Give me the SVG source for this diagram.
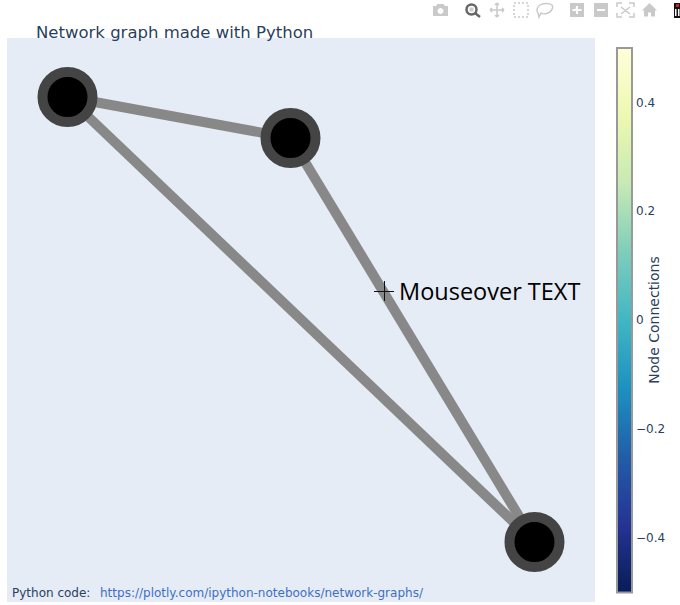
<svg xmlns="http://www.w3.org/2000/svg" width="680" height="605" viewBox="0 0 680 605">
<style>
.edge{stroke:#888;stroke-width:10;fill:none}
.node{fill:#000;stroke:#444;stroke-width:10}
.plotly{font-family:"DejaVu Sans",Verdana,sans-serif;fill:#2a3f5f}
.tick{font-size:12px}
.ic{fill:#c9c9c9;stroke:none}
.il{fill:none;stroke:#c9c9c9;stroke-width:1.5}
</style>
<defs>
<linearGradient id="ylgnbu" x1="0" y1="0" x2="0" y2="1">
<stop offset="0" stop-color="#ffffd9"/><stop offset=".125" stop-color="#edf8b1"/><stop offset=".25" stop-color="#c7e9b4"/><stop offset=".375" stop-color="#7fcdbb"/><stop offset=".5" stop-color="#41b6c4"/><stop offset=".625" stop-color="#1d91c0"/><stop offset=".75" stop-color="#225ea8"/><stop offset=".875" stop-color="#253494"/><stop offset="1" stop-color="#081d58"/>
</linearGradient>
</defs>
<rect width="680" height="605" fill="#fff"/>
<rect id="plot-area" x="7" y="38" width="588" height="564" fill="#e5ecf6"/>
<text id="title" class="plotly" x="36" y="38" font-size="16.5">Network graph made with Python</text>
<g id="connectors">
<line class="edge" x1="67.5" y1="97" x2="290.5" y2="138"/>
<line class="edge" x1="67.5" y1="97" x2="534.5" y2="542"/>
<line class="edge" x1="290.5" y1="138" x2="534.5" y2="542"/>
</g>
<g id="node-1"><circle class="node" cx="67.5" cy="97" r="25"/></g>
<g id="node-2"><circle class="node" cx="290.5" cy="138" r="25"/></g>
<g id="node-3"><circle class="node" cx="534.5" cy="542" r="25"/></g>
<g id="cursor" stroke="#111" stroke-width="1"><line x1="374" y1="291.5" x2="394" y2="291.5"/><line x1="384.5" y1="281" x2="384.5" y2="301"/></g>
<text id="hover" x="399" y="300" font-family="'Open Sans',sans-serif" font-size="23.5" fill="#000">Mouseover TEXT</text>
<text id="annotation" font-family="'DejaVu Sans',Verdana,sans-serif" font-size="12" x="12" y="597" fill="#2a3f5f">Python code:<tspan x="100" fill="#3f6fc4">https://plotly.com/ipython-notebooks/network-graphs/</tspan></text>
<g id="colorbar">
<rect x="617" y="48" width="15" height="544.500" fill="url(#ylgnbu)" stroke="#999" stroke-width="2"/>
<g class="plotly tick">
<text x="636" y="107">0.4</text>
<text x="636" y="215">0.2</text>
<text x="636" y="324">0</text>
<text x="636" y="433">−0.2</text>
<text x="636" y="542">−0.4</text>
</g>
<text class="plotly" font-size="14" transform="translate(659 320) rotate(-90)" text-anchor="middle">Node Connections</text>
</g>
<g id="toolbar">
<path class="ic" d="M433 6h3l1.500-2h6l1.500 2h3v10h-15zM440.500 8a3 3 0 1 0 .01 0z" fill-rule="evenodd"/>
<circle cx="471.500" cy="9.500" r="5" fill="none" stroke="#666" stroke-width="2.500"/><rect x="469.500" y="7.500" width="4" height="4" fill="#ccc"/><line x1="475" y1="13" x2="480" y2="17" stroke="#666" stroke-width="2.500"/>
<path class="il" d="M497 3v14M490 10h14M497 3l-2 2M497 3l2 2M497 17l-2-2M497 17l2-2M490 10l2-2M490 10l2 2M504 10l-2-2M504 10l-2 2"/>
<rect class="il" x="514" y="3" width="14" height="14" stroke-dasharray="2 2"/>
<path class="il" d="M539 17l-1-4c-2-2-1-6 2-8s9-2 12 0c2 3-1 7-4 8s-6 1-7 0z"/>
<path class="ic" d="M570 3h14v14h-14zM575.500 9h-3v2h3.500v3h2v-3h3.500v-2h-3.500v-3h-2z" fill-rule="evenodd"/>
<path class="ic" d="M594 3h14v14h-14zM597 9v2h8v-2z" fill-rule="evenodd"/>
<path class="il" d="M618 3h-1v4M618 3h4M633 3h1v4M633 3h-4M618 17h-1v-4M618 17h4M633 17h1v-4M633 17h-4M621 7l9 7M630 7l-9 7"/>
<path class="ic" d="M649.500 3l7.500 7.500h-2v6h-4v-4h-3v4h-4v-6h-2z"/>
<rect x="674" y="3" width="6" height="15" fill="#111"/><rect x="675" y="9" width="1.500" height="7" fill="#fff"/><rect x="678" y="9" width="1.500" height="7" fill="#fff"/><rect x="676" y="4" width="3" height="3" fill="#c22"/>
</g>
</svg>
